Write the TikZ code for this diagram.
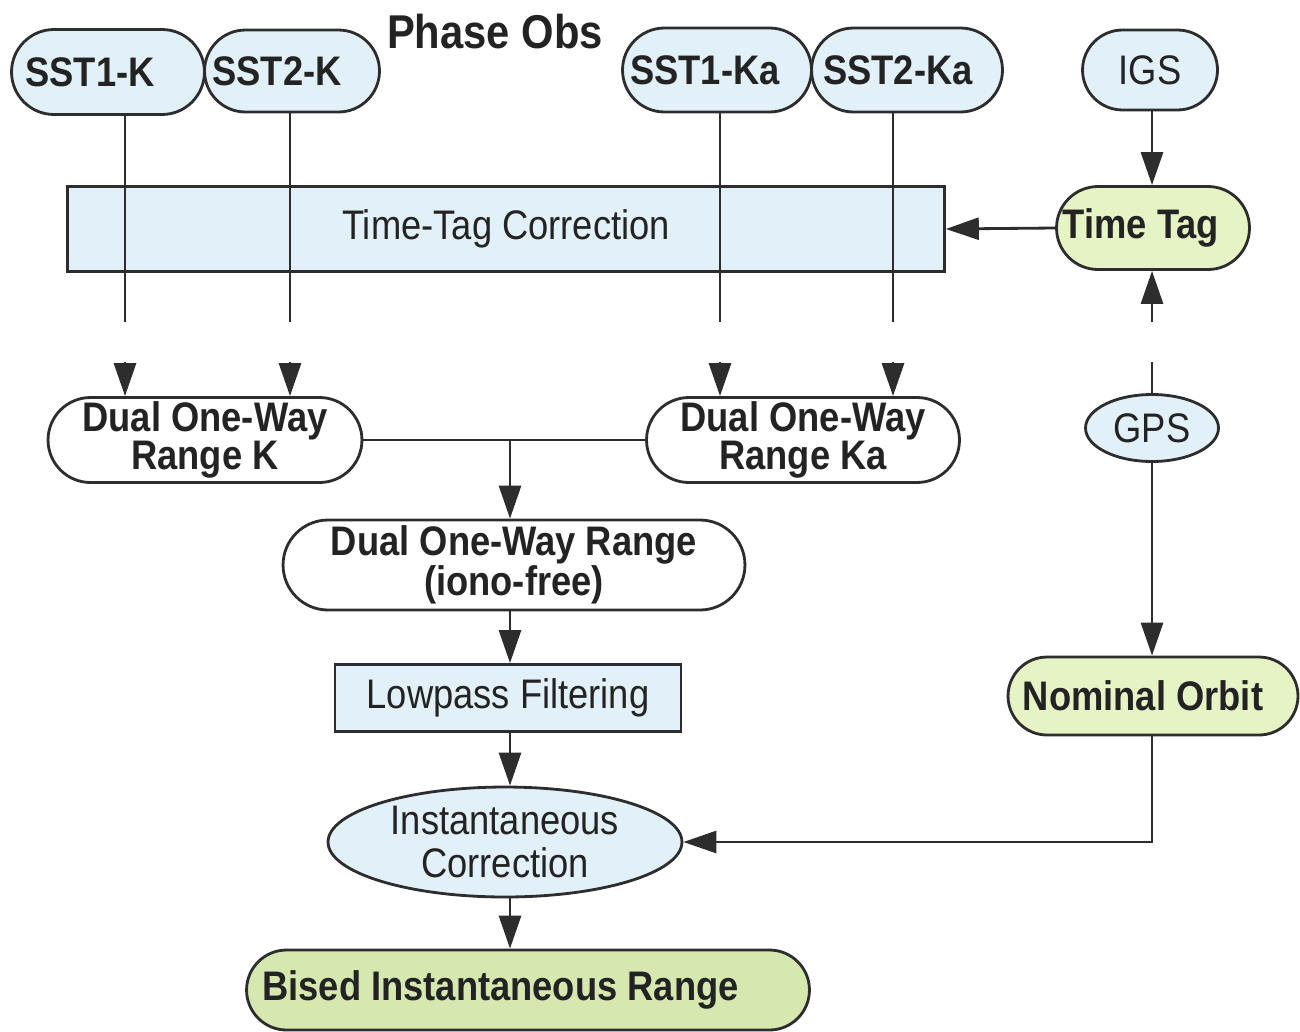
\documentclass[tikz,border=0pt]{standalone}
\usepackage{fontspec}
\setmainfont{Liberation Sans}[FakeStretch=0.88]
\usetikzlibrary{arrows.meta,shapes.geometric,shapes.misc}
\definecolor{lnc}{RGB}{45,45,45}
\definecolor{txc}{RGB}{35,35,35}
\definecolor{bluef}{RGB}{226,241,249}
\definecolor{yelf}{RGB}{230,243,196}
\definecolor{grnf}{RGB}{214,231,176}
\begin{document}
\begin{tikzpicture}[x=0.02cm,y=-0.02cm,
  base/.style={draw=lnc, line width=1.6pt, text=txc, inner sep=0pt, align=center},
  stad/.style={base, rounded rectangle},
  boxn/.style={base, rectangle},
  ell/.style={base, ellipse},
  fb/.style={font=\fontsize{23.5}{22}\selectfont\bfseries},
  fr/.style={font=\fontsize{23.5}{25}\selectfont},
  conn/.style={draw=lnc, line width=1.6pt},
  arr/.style={conn, -{Triangle[length=0.66cm,width=0.44cm]}}]
\useasboundingbox[fill=white] (0,0) rectangle (1300,1031);

% column coordinates
\coordinate (xa) at (125,0);
\coordinate (xb) at (290,0);
\coordinate (xc) at (720,0);
\coordinate (xd) at (893,0);
\coordinate (xg) at (1152,0);
\coordinate (xm) at (510,0);

% top row
\node[stad, fill=bluef, fb, minimum width=3.86cm, minimum height=1.7cm] (sst1k) at (108,72) {SST1-K\hspace*{0.72cm}};
\node[stad, fill=bluef, fb, minimum width=3.5cm, minimum height=1.64cm] (sst2k) at (292,71) {SST2-K\hspace*{0.6cm}};
\node[text=txc, font=\fontsize{27}{30}\selectfont\bfseries] (phase) at (495,32) {Phase Obs};
\node[stad, fill=bluef, fb, minimum width=3.78cm, minimum height=1.68cm] (sst1ka) at (717,70) {SST1-Ka\hspace*{0.48cm}};
\node[stad, fill=bluef, fb, minimum width=3.82cm, minimum height=1.68cm] (sst2ka) at (907,70) {SST2-Ka\hspace*{0.36cm}};
\node[stad, fill=bluef, fr, minimum width=2.7cm, minimum height=1.6cm] (igs) at (1150,70) {IGS};

% time tag row
\node[boxn, fill=bluef, fr, minimum width=17.54cm, minimum height=1.7cm] (ttc) at (506,229) {Time-Tag Correction};
\node[stad, fill=yelf, fb, minimum width=3.86cm, minimum height=1.66cm] (tt) at (1153,228) {Time Tag\hspace*{0.48cm}};

% dual one-way row
\node[stad, fill=white, fb, minimum width=6.28cm, minimum height=1.7cm] (drk) at (205,440) {Dual One-Way\\Range K};
\node[stad, fill=white, fb, minimum width=6.26cm, minimum height=1.7cm] (drka) at (803,440) {Dual One-Way\\Range Ka};
\node[ell, fill=bluef, fr, minimum width=2.66cm, minimum height=1.34cm] (gps) at (1152,428) {GPS};

\node[stad, fill=white, fb, minimum width=9.24cm, minimum height=1.8cm] (dri) at (514,565) {Dual One-Way Range\\(iono-free)};
\node[boxn, fill=bluef, fr, minimum width=6.92cm, minimum height=1.34cm] (lp) at (508,698) {Lowpass Filtering};
\node[stad, fill=yelf, fb, minimum width=5.8cm, minimum height=1.56cm] (no) at (1153,696) {Nominal Orbit\hspace*{0.4cm}};
\node[ell, fill=bluef, fr, minimum width=7.08cm, minimum height=2.2cm] (ic) at (505,842) {Instantaneous\\Correction};
\node[stad, fill=grnf, fb, minimum width=11.26cm, minimum height=1.6cm] (bir) at (528,990) {Bised Instantaneous Range\hspace*{1.1cm}};

% break points
\coordinate (ya) at (0,322);
\coordinate (yb) at (0,362);

% SST lines
\draw[conn] (sst1k.south -| xa) -- (ya -| xa);
\draw[arr] (yb -| xa) -- (drk.north -| xa);
\draw[conn] (sst2k.south -| xb) -- (ya -| xb);
\draw[arr] (yb -| xb) -- (drk.north -| xb);
\draw[conn] (sst1ka.south -| xc) -- (ya -| xc);
\draw[arr] (yb -| xc) -- (drka.north -| xc);
\draw[conn] (sst2ka.south -| xd) -- (ya -| xd);
\draw[arr] (yb -| xd) -- (drka.north -| xd);

% IGS / GPS / time tag
\draw[arr] (igs.south -| xg) -- (tt.north -| xg);
\draw[arr] (tt.west) -- (ttc.east);
\draw[conn] (gps.north -| xg) -- (yb -| xg);
\draw[arr] (ya -| xg) -- (tt.south -| xg);
\draw[arr] (gps.south -| xg) -- (no.north -| xg);
\draw[arr] (no.south -| xg) |- (ic.east);

% main chain
\draw[conn] (drk.east) -- (drka.west);
\draw[arr] (drk.east -| xm) -- (dri.north -| xm);
\draw[arr] (dri.south -| xm) -- (lp.north -| xm);
\draw[arr] (lp.south -| xm) -- (ic.north -| xm);
\draw[arr] (ic.south -| xm) -- (bir.north -| xm);
\end{tikzpicture}
\end{document}
